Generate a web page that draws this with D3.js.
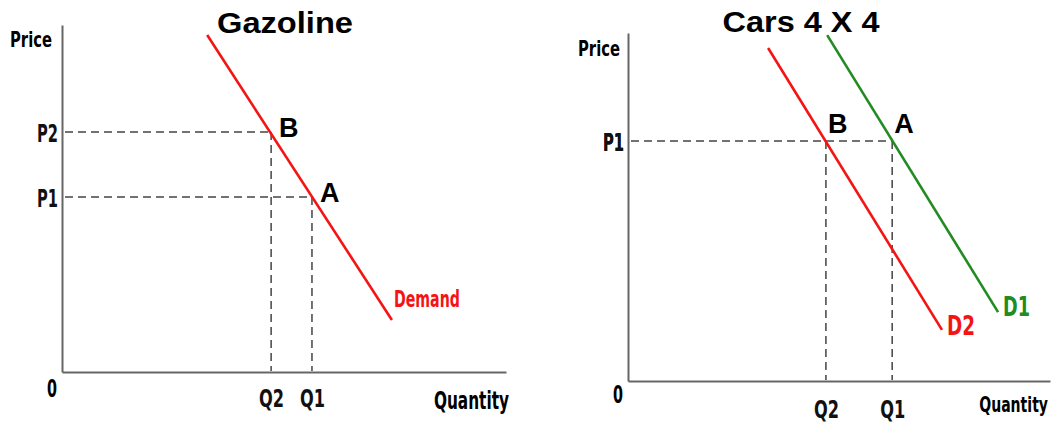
<!DOCTYPE html>
<html>
<head>
<meta charset="utf-8">
<script src="https://cdn.jsdelivr.net/npm/d3@7"></script>
<style>
  body { margin: 0; background: #fff; }
  .hand { font-family: "DejaVu Sans Condensed", "DejaVu Sans", sans-serif; font-weight: bold; }
  .title, .pt { font-family: "Liberation Sans", Arial, sans-serif; font-weight: bold; }
</style>
</head>
<body>
<svg id="chart" width="1055" height="423"></svg>
<script>
// Gazoline: one demand curve, price rises from P1 to P2
const gasDemand = [{q: 3.27, p: 9.71}, {q: 7.43, p: 1.50}]
const gasPoints = [
  {name: 'B', q: 4.71, p: 6.92, qLabel: 'Q2', pLabel: 'P2'},
  {name: 'A', q: 5.63, p: 5.04, qLabel: 'Q1', pLabel: 'P1'}
]

// Cars 4x4: demand shifts from D1 to D2 at the same price P1
const carsD1 = [{q: 4.72, p: 9.94}, {q: 8.77, p: 1.98}]
const carsD2 = [{q: 3.32, p: 9.57}, {q: 7.44, p: 1.47}]
const carsPoints = [
  {name: 'B', q: 4.69, p: 6.90, qLabel: 'Q2', pLabel: 'P1'},
  {name: 'A', q: 6.26, p: 6.90, qLabel: 'Q1', pLabel: 'P1'}
]

const svg = d3.select('#chart')
const red = '#f41414'
const green = '#228b22'

function panel(cfg) {
  const x = d3.scaleLinear().domain([0, 10]).range(cfg.xRange)
  const y = d3.scaleLinear().domain([0, 10]).range(cfg.yRange)
  const g = svg.append('g')

  // axes (labels come from the points)
  const yAxis = d3.axisLeft(y)
    .tickValues(cfg.points.map(d => d.p))
    .tickFormat((d, i) => cfg.points[i].pLabel)
    .tickSize(0).tickPadding(4)
  const yG = g.append('g')
    .attr('transform', `translate(${cfg.xRange[0]},0)`)
    .call(yAxis)

  const xAxis = d3.axisBottom(x)
    .tickValues(cfg.points.map(d => d.q))
    .tickFormat((d, i) => cfg.points[i].qLabel)
    .tickSize(0).tickPadding(cfg.qPad)
  const xG = g.append('g')
    .attr('transform', `translate(0,${cfg.yRange[0]})`)
    .call(xAxis)

  for (const ax of [yG, xG]) {
    ax.select('.domain').attr('stroke', '#666').attr('stroke-width', 2)
    ax.selectAll('text')
      .attr('class', 'hand')
      .attr('font-size', 24)
      .attr('fill', '#111')
      .attr('textLength', 21)
      .attr('lengthAdjust', 'spacingAndGlyphs')
  }
  xG.selectAll('text').attr('textLength', 25)
  yG.selectAll('text').attr('dy', '0.4em')

  // dashed guides
  const uniqP = Array.from(new Set(cfg.points.map(d => d.p)))
  g.selectAll('.hguide')
    .data(uniqP)
    .join('line')
      .attr('x1', x(0) + 3)
      .attr('x2', p => x(d3.max(cfg.points.filter(d => d.p === p), d => d.q)))
      .attr('y1', p => y(p))
      .attr('y2', p => y(p))
      .attr('stroke', '#444').attr('stroke-width', 1.5)
      .attr('stroke-dasharray', '8,5')

  g.selectAll('.vguide')
    .data(cfg.points)
    .join('line')
      .attr('x1', d => x(d.q))
      .attr('x2', d => x(d.q))
      .attr('y1', d => y(d.p))
      .attr('y2', y(0) - 1)
      .attr('stroke', '#444').attr('stroke-width', 1.5)
      .attr('stroke-dasharray', '8,5')

  // demand curves
  const line = d3.line().x(d => x(d.q)).y(d => y(d.p))
  cfg.curves.forEach(c => {
    g.append('path')
      .datum(c.data)
      .attr('d', line)
      .attr('fill', 'none')
      .attr('stroke', c.color)
      .attr('stroke-width', 2.6)

    const end = c.data[c.data.length - 1]
    g.append('text')
      .attr('class', 'hand')
      .attr('x', x(end.q) + c.dx)
      .attr('y', y(end.p) + c.dy)
      .attr('fill', c.color)
      .attr('font-size', c.fs)
      .attr('textLength', c.w)
      .attr('lengthAdjust', 'spacingAndGlyphs')
      .text(c.label)
  })

  // point letters
  g.selectAll('.pt')
    .data(cfg.points)
    .join('text')
      .attr('class', 'pt')
      .attr('x', d => x(d.q) + cfg.letterDx)
      .attr('y', d => y(d.p) + cfg.letterDy)
      .attr('font-size', 27)
      .attr('fill', '#000')
      .text(d => d.name)

  // axis names, origin, title
  g.append('text').attr('class', 'hand')
    .attr('x', cfg.priceAt[0]).attr('y', cfg.priceAt[1])
    .attr('font-size', 22).attr('textLength', 42).attr('lengthAdjust', 'spacingAndGlyphs')
    .text('Price')
  g.append('text').attr('class', 'hand')
    .attr('x', x(0) - 5).attr('y', y(0) + cfg.zeroDy)
    .attr('text-anchor', 'end')
    .attr('font-size', 24).attr('textLength', 10).attr('lengthAdjust', 'spacingAndGlyphs')
    .text('0')
  // squeezed with a transform so the narrow hand-lettered look fits the edge
  g.append('text').attr('class', 'hand')
    .attr('transform', `translate(${cfg.qtyEnd},${y(0) + cfg.qtyDy}) scale(${cfg.qtySx},1)`)
    .attr('text-anchor', 'end')
    .attr('font-size', cfg.qtyFs)
    .text('Quantity')
  g.append('text').attr('class', 'title')
    .attr('x', cfg.titleAt[0]).attr('y', cfg.titleAt[1])
    .attr('text-anchor', 'middle')
    .attr('font-size', 29)
    .attr('textLength', cfg.titleW).attr('lengthAdjust', 'spacingAndGlyphs')
    .text(cfg.title)
}

panel({
  xRange: [62, 506], yRange: [372, 25],
  points: gasPoints,
  curves: [{data: gasDemand, color: red, label: 'Demand', dx: 2, dy: -13, w: 66, fs: 23}],
  letterDx: 8, letterDy: 5,
  qPad: 18, zeroDy: 25, qtyEnd: 509, qtyDy: 37, qtySx: 0.71, qtyFs: 24,
  priceAt: [10, 47],
  title: 'Gazoline', titleAt: [285, 33], titleW: 136
})

panel({
  xRange: [628, 1050], yRange: [381, 33],
  points: carsPoints,
  curves: [
    {data: carsD1, color: green, label: 'D1', dx: 5, dy: 4, w: 27, fs: 26},
    {data: carsD2, color: red, label: 'D2', dx: 5, dy: 5, w: 28, fs: 26}
  ],
  letterDx: 2, letterDy: -8,
  qPad: 20, zeroDy: 22, qtyEnd: 1048, qtyDy: 31, qtySx: 0.71, qtyFs: 22,
  priceAt: [578, 56],
  title: 'Cars 4 X 4', titleAt: [801, 32], titleW: 157
})
</script>
</body>
</html>
